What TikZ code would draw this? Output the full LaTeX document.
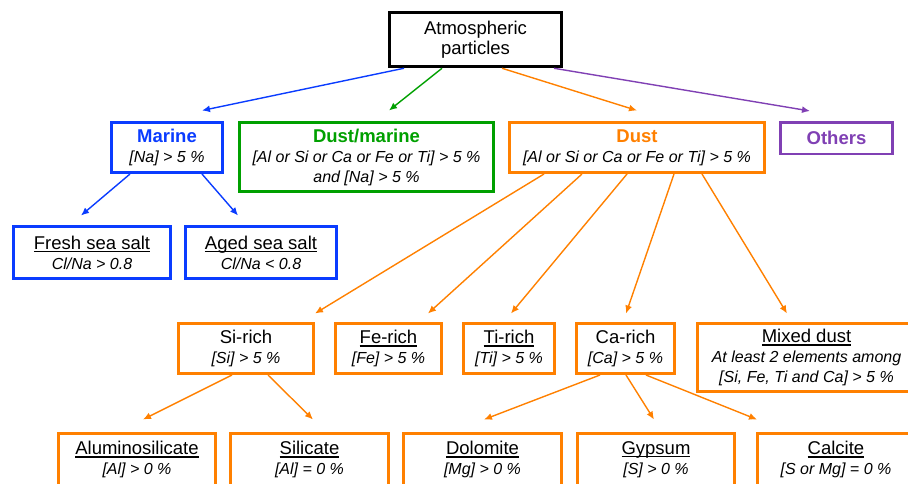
\documentclass[tikz,border=0pt]{standalone}
\usepackage{fontspec}
\setmainfont{Liberation Sans}
\usetikzlibrary{arrows.meta}
\definecolor{cblue}{HTML}{0A3CFF}
\definecolor{cgreen}{HTML}{00A000}
\definecolor{corange}{HTML}{FF8000}
\definecolor{cpurple}{HTML}{8040B4}
\newsavebox\ulbox
\newcommand\ul[1]{\sbox\ulbox{#1}\leavevmode\rlap{\rule[-3pt]{\wd\ulbox}{1.4pt}}\usebox\ulbox}
\newcommand\subt[1]{{\fontsize{16}{19}\selectfont\itshape #1}}
\begin{document}
\begin{tikzpicture}[x={(1pt,0)},y={(0,-1pt)},
  box/.style={draw, line width=3pt, inner sep=0pt, align=center, fill=white,
    font=\fontsize{18.5}{20}\selectfont},
  bx/.style n args={2}{box, minimum width=#1, minimum height=#2},
  arr/.style={line width=1.4pt, -{Latex[length=8pt,width=7pt]}}]
\useasboundingbox (0,0) rectangle (908,483);
% level 0
\node[bx={172pt}{54pt}, line width=3.5pt, draw=black] (atm) at (475.5,39.5) {Atmospheric\\particles};
% level 1
\node[bx={111pt}{50pt}, draw=cblue] (marine) at (167,147.5) {\textcolor{cblue}{\bfseries Marine}\\\subt{[Na] > 5 \%}};
\node[bx={254pt}{69pt}, draw=cgreen] (dm) at (366.5,157) {\textcolor{cgreen}{\bfseries Dust/marine}\\\subt{[Al or Si or Ca or Fe or Ti] > 5 \%}\\\subt{and [Na] > 5 \%}};
\node[bx={255pt}{50pt}, draw=corange] (dust) at (637,147.5) {\textcolor{corange}{\bfseries Dust}\\\subt{[Al or Si or Ca or Fe or Ti] > 5 \%}};
\node[bx={112pt}{31.5pt}, line width=2.5pt, draw=cpurple] (others) at (836.5,138) {\textcolor{cpurple}{\bfseries Others}};
% level 2 marine
\node[bx={157pt}{52pt}, draw=cblue] (fresh) at (92,252.5) {\ul{Fresh sea salt}\\\subt{Cl/Na > 0.8}};
\node[bx={151pt}{52pt}, draw=cblue] (aged) at (261,252.5) {\ul{Aged sea salt}\\\subt{Cl/Na < 0.8}};
% level 2 dust
\node[bx={135pt}{50pt}, draw=corange] (si) at (246,348.5) {Si-rich\\\subt{[Si] > 5 \%}};
\node[bx={106pt}{50pt}, draw=corange] (fe) at (388.5,348.5) {\ul{Fe-rich}\\\subt{[Fe] > 5 \%}};
\node[bx={91pt}{50pt}, draw=corange] (ti) at (509,348.5) {\ul{Ti-rich}\\\subt{[Ti] > 5 \%}};
\node[bx={98pt}{50pt}, draw=corange] (ca) at (625.5,348.5) {Ca-rich\\\subt{[Ca] > 5 \%}};
\node[bx={218pt}{68pt}, draw=corange] (mixed) at (806.5,357.5) {\ul{Mixed dust}\\\subt{At least 2 elements among}\\\subt{[Si, Fe, Ti and Ca] > 5 \%}};
% level 3
\node[bx={157pt}{52pt}, draw=corange] (alu) at (137,459.5) {\ul{Aluminosilicate}\\\subt{[Al] > 0 \%}};
\node[bx={158pt}{52pt}, draw=corange] (sil) at (309.5,459.5) {\ul{Silicate}\\\subt{[Al] = 0 \%}};
\node[bx={158pt}{52pt}, draw=corange] (dol) at (482.5,459.5) {\ul{Dolomite}\\\subt{[Mg] > 0 \%}};
\node[bx={157pt}{52pt}, draw=corange] (gyp) at (656,459.5) {\ul{Gypsum}\\\subt{[S] > 0 \%}};
\node[bx={157pt}{52pt}, draw=corange] (cal) at (836,459.5) {\ul{Calcite}\\\subt{[S or Mg] = 0 \%}};
% connectors
\draw[arr, cblue] ([xshift=-71.5pt]atm.south) -- ([xshift=35pt,yshift=10.5pt]marine.north);
\draw[arr, cgreen] ([xshift=-33.5pt]atm.south) -- ([xshift=22.5pt,yshift=10.5pt]dm.north);
\draw[arr, corange] ([xshift=26.5pt]atm.south) -- ([yshift=10.5pt]dust.north);
\draw[arr, cpurple] ([xshift=78.5pt]atm.south) -- ([xshift=-26.5pt,yshift=10pt]others.north);
\draw[arr, cblue] ([xshift=-37pt]marine.south) -- ([xshift=-11pt,yshift=9.5pt]fresh.north);
\draw[arr, cblue] ([xshift=35pt]marine.south) -- ([xshift=-23pt,yshift=9.5pt]aged.north);
\draw[arr, corange] ([xshift=-93pt]dust.south) -- ([xshift=69pt,yshift=8.5pt]si.north);
\draw[arr, corange] ([xshift=-55pt]dust.south) -- ([xshift=39.5pt,yshift=8.5pt]fe.north);
\draw[arr, corange] ([xshift=-10pt]dust.south) -- ([xshift=2pt,yshift=8.5pt]ti.north);
\draw[arr, corange] ([xshift=37pt]dust.south) -- ([xshift=0.5pt,yshift=8.5pt]ca.north);
\draw[arr, corange] ([xshift=65pt]dust.south) -- ([xshift=-19.5pt,yshift=8.5pt]mixed.north);
\draw[arr, corange] ([xshift=-14pt]si.south) -- ([xshift=6pt,yshift=12.5pt]alu.north);
\draw[arr, corange] ([xshift=22pt]si.south) -- ([xshift=3.5pt,yshift=12.5pt]sil.north);
\draw[arr, corange] ([xshift=-25.5pt]ca.south) -- ([xshift=1.5pt,yshift=12.5pt]dol.north);
\draw[arr, corange] ([xshift=0.5pt]ca.south) -- ([xshift=-2pt,yshift=12.5pt]gyp.north);
\draw[arr, corange] ([xshift=20.5pt]ca.south) -- ([xshift=-79pt,yshift=12.5pt]cal.north);
\end{tikzpicture}
\end{document}
